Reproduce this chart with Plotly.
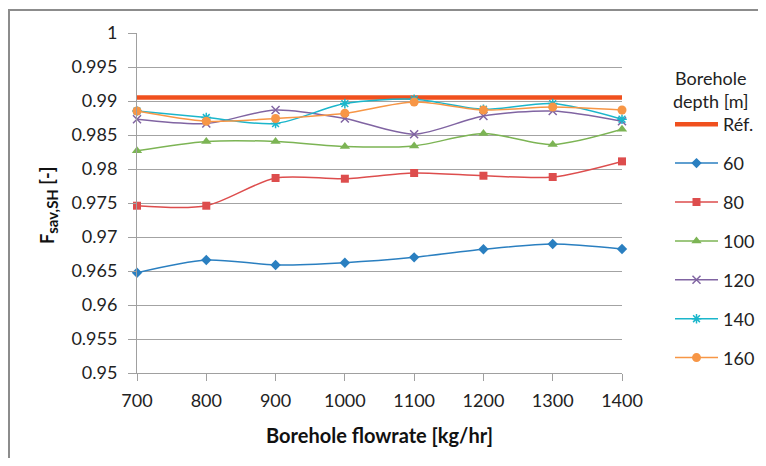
import plotly.graph_objects as go

flowrate = [700, 800, 900, 1000, 1100, 1200, 1300, 1400]
ref = [0.9905, 0.9905, 0.9905, 0.9905, 0.9905, 0.9905, 0.9905, 0.9905]
d60 = [0.96475, 0.96662, 0.96588, 0.96622, 0.96701, 0.96819, 0.96897, 0.96824]
d80 = [0.9746, 0.9746, 0.97868, 0.97857, 0.97941, 0.97901, 0.97882, 0.98112]
d100 = [0.98267, 0.98405, 0.98405, 0.98331, 0.9834, 0.98522, 0.9836, 0.98585]
d120 = [0.98732, 0.98669, 0.98868, 0.98742, 0.98512, 0.9878, 0.98853, 0.98702]
d140 = [0.98853, 0.98757, 0.98669, 0.98962, 0.99025, 0.98878, 0.98962, 0.98732]
d160 = [0.98853, 0.98702, 0.98742, 0.9882, 0.98985, 0.98868, 0.98912, 0.98868]

yticks = [0.95, 0.955, 0.96, 0.965, 0.97, 0.975, 0.98, 0.985, 0.99, 0.995, 1]
ytick_labels = ["0.95", "0.955", "0.96", "0.965", "0.97", "0.975", "0.98", "0.985", "0.99", "0.995", "1"]

FONT = "Lato"

series = [
    ("60", d60, "#2a7fc0", "diamond", 8),
    ("80", d80, "#dd4d4d", "square", 8),
    ("100", d100, "#7cb454", "triangle-up", 9),
    ("120", d120, "#8064a2", "x-thin", 8),
    ("140", d140, "#1bb6cb", "asterisk", 8),
    ("160", d160, "#f79646", "circle", 9),
]

fig = go.Figure()
fig.add_trace(go.Scatter(
    x=flowrate, y=ref, name="Réf.", mode="lines",
    line=dict(color="#f0501e", width=4.5), legendgroup="ref",
))
for name, vals, color, sym, size in series:
    open_sym = sym in ("x-thin", "asterisk")
    fig.add_trace(go.Scatter(
        x=flowrate, y=vals, name=name, mode="lines+markers",
        line=dict(color=color, width=1.5, shape="spline", smoothing=0.8),
        marker=dict(symbol=sym, size=size, color=color,
                    line=dict(color=color, width=1.5 if open_sym else 0)),
        cliponaxis=False, legendgroup=name,
    ))

# page body has an 8px margin: figure pixel = page pixel - 8
OFF = 8
W, H = 750, 450
L = 137 - OFF
T = 33 - OFF
R = W - (622 - OFF)
B = H - (373 - OFF)
pw = W - L - R
ph = H - T - B


def px(xp):
    return (xp - OFF - L) / pw


def py(yp):
    return 1 - (yp - OFF - T) / ph


fig.update_layout(
    width=W, height=H,
    margin=dict(l=L, r=R, t=T, b=B, autoexpand=False),
    paper_bgcolor="white", plot_bgcolor="white",
    font=dict(family=FONT, size=18, color="#222222"),
    showlegend=True,
    legend=dict(
        x=px(670), xanchor="left",
        y=py(106), yanchor="top",
        font=dict(family=FONT, size=18, color="#222222"),
        tracegroupgap=12.5, itemwidth=43,
        bgcolor="rgba(0,0,0,0)",
    ),
    xaxis=dict(
        range=[700, 1400], tickvals=flowrate,
        showgrid=False, zeroline=False,
        showline=True, linecolor="#a0a0a0", linewidth=1,
        ticks="outside", ticklen=7, tickcolor="#a0a0a0",
        ticklabelstandoff=4,
        tickfont=dict(family=FONT, size=18, color="#222222"),
        title=dict(text="<b>Borehole flowrate [kg/hr]</b>",
                   font=dict(family=FONT, size=20, color="#111111"), standoff=19),
    ),
    yaxis=dict(
        range=[0.95, 1], tickvals=yticks, ticktext=ytick_labels,
        showgrid=True, gridcolor="#a3a3a3", gridwidth=1, zeroline=False,
        showline=True, linecolor="#a0a0a0", linewidth=1,
        ticks="outside", ticklen=8, tickcolor="#a0a0a0",
        ticklabelstandoff=7,
        tickfont=dict(family=FONT, size=18, color="#222222"),
    ),
    annotations=[
        dict(
            text="Borehole<br>depth [m]", xref="paper", yref="paper",
            x=px(710), y=py(89), xanchor="center", yanchor="middle",
            showarrow=False, font=dict(family=FONT, size=18, color="#222222"),
        ),
        dict(
            text='<b>F<sub><span style="font-size:15px">sav,SH</span></sub> [-]</b>',
            xref="paper", yref="paper",
            x=px(48), y=py(206), xanchor="center", yanchor="middle", textangle=-90,
            showarrow=False, font=dict(family=FONT, size=18, color="#111111"),
        ),
    ],
    shapes=[dict(
        type="rect", xref="paper", yref="paper",
        x0=px(9), x1=1.6, y0=-0.5, y1=py(10),
        line=dict(color="#8c8c8c", width=2), fillcolor="rgba(0,0,0,0)", layer="below",
    )],
)

fig.write_html("out.html")
